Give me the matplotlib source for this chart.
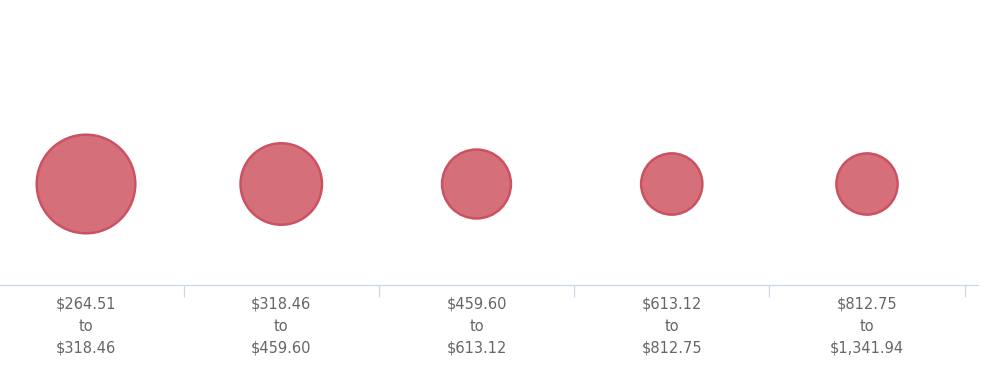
import matplotlib
matplotlib.use("Agg")
import matplotlib.pyplot as plt
from matplotlib.ticker import FixedLocator, FixedFormatter

# price buckets and bubble values (area proportional to value)
lows = ["$264.51", "$318.46", "$459.60", "$613.12", "$812.75"]
highs = ["$318.46", "$459.60", "$613.12", "$812.75", "$1,341.94"]
counts = [98, 67, 48, 38, 38]

labels = [f"{lo}\nto\n{hi}" for lo, hi in zip(lows, highs)]
xs = list(range(len(counts)))

DPI = 100
fig = plt.figure(figsize=(10.02, 3.85), dpi=DPI)

# plot area: left edge at 0 px, axis line at y=285 px, right end at 978 px
ax = fig.add_axes([0, 100 / 385, 978 / 1002, 285 / 385])

step = 195.25      # px per category
first = 86         # px centre of first category
ax.set_xlim(-first / step, (978 - first) / step)
ax.set_ylim(-101, 184)

# bubble diameter (px) from area-scaled value, max bubble = 99 px
max_d = 99
lw_px = 2.5
sizes = []
for c in counts:
    d = max_d * (c / max(counts)) ** 0.5 - 0.4
    sizes.append((d * 72 / DPI) ** 2)

ax.scatter(xs, [0] * len(xs), s=sizes, facecolor="#d5707b",
           edgecolor="#cc5161", linewidth=lw_px * 72 / DPI, zorder=3)

for side in ["top", "left", "right"]:
    ax.spines[side].set_visible(False)
ax.spines["bottom"].set_color("#ccd6eb")
ax.spines["bottom"].set_linewidth(0.9)

ax.set_yticks([])
ax.xaxis.set_major_locator(FixedLocator([i + 0.5 for i in xs]))
ax.xaxis.set_major_formatter(FixedFormatter([""] * len(xs)))
ax.tick_params(axis="x", which="major", length=8.5, width=0.9,
               color="#ccd6eb", direction="out")
ax.xaxis.set_minor_locator(FixedLocator(xs))
ax.xaxis.set_minor_formatter(FixedFormatter(labels))
ax.tick_params(axis="x", which="minor", length=0, pad=8.5,
               labelsize=10.5, labelcolor="#666666")
for t in ax.xaxis.get_minorticklabels():
    t.set_linespacing(1.56)
    t.set_horizontalalignment("center")

fig.savefig("out.png", dpi=DPI, facecolor="white")
